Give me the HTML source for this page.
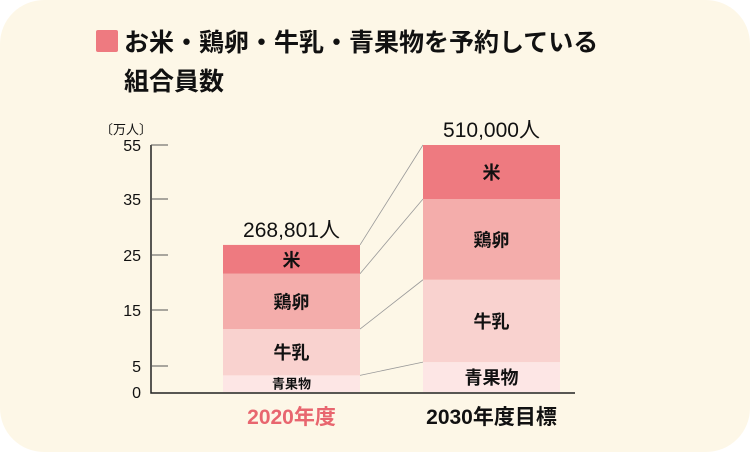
<!DOCTYPE html>
<html><head><meta charset="utf-8"><style>
html,body{margin:0;padding:0;background:#fff;}
body{width:750px;height:452px;overflow:hidden;font-family:"Liberation Sans","Noto Sans CJK JP",sans-serif;}
#card{position:absolute;left:0;top:0;width:750px;height:452px;background:#fdf7e7;border-radius:44px;}
</style></head><body>
<div id="card">
<svg id="chart" width="750" height="452" style="position:absolute;left:0;top:0">
<rect x="96" y="30" width="22" height="22" rx="2" fill="#ee7a80"/>
<text x="124" y="51" font-size="25" font-weight="bold" fill="#111">お米・鶏卵・牛乳・青果物を予約している</text>
<text x="124" y="90" font-size="25" font-weight="bold" fill="#111">組合員数</text>
<text x="100" y="134" font-size="13" fill="#111">〔万人〕</text>
<g id="axis"></g><g id="connectors"></g><g id="bars"></g><g id="labels"></g>
</svg>
</div>
<script>
const categories = ["2020年度","2030年度目標"];
const segmentNames = ["青果物","牛乳","鶏卵","米"];
const values2020 = [3.2, 8.4, 10.0, 5.2];
const values2030 = [5.7, 14.8, 14.5, 20.0];
const totalsLabels = ["268,801人","510,000人"];
const tickValues = [0,5,15,25,35,55];
const colors = ["#fde6e5","#f9d2cf","#f4adab","#ee7a80"];
const series = [values2020, values2030];
const tickPix = [392,366,310,255,199,145];
function y(v){
  for(let i=1;i<tickValues.length;i++){
    if(v<=tickValues[i]||i===tickValues.length-1){
      const a=tickValues[i-1],b=tickValues[i];
      return tickPix[i-1]+(v-a)/(b-a)*(tickPix[i]-tickPix[i-1]);
    }
  }
}
const NS="http://www.w3.org/2000/svg";
function mk(tag,attrs,parent){const e=document.createElementNS(NS,tag);for(const k in attrs)e.setAttribute(k,attrs[k]);parent.appendChild(e);return e;}
const axis=document.getElementById('axis');
let ax=mk('path',{d:`M151 ${y(tickValues[tickValues.length-1])} V393 H575`,stroke:'#222','stroke-width':1.5,fill:'none'},axis);


tickValues.forEach((t,i)=>{
  if(i>0){let l=mk('line',{x1:151,x2:168,y1:y(t),y2:y(t),stroke:'#555','stroke-width':1},axis);
  
  }
  let tx=mk('text',{x:141,y:(i===0?y(t)+6:y(t)+6),'font-size':16,'text-anchor':'end',fill:'#111'},axis);
  tx.textContent=t;
  
  
});
const barX=[223,423], barW=137;
const bars=document.getElementById('bars'), labels=document.getElementById('labels'), conn=document.getElementById('connectors');
const tops=[];
series.forEach((vals,bi)=>{
  let cum=0; tops.push([]);
  vals.forEach((v,si)=>{
    const y0=y(cum), y1=y(cum+v); cum+=v; tops[bi].push(y1);
    let r=mk('rect',{x:barX[bi],y:y1,width:barW,height:y0-y1,fill:colors[si]},bars);
    
    
    const small = (bi===0&&si===0);
    let t=mk('text',{x:barX[bi]+barW/2,y:(y0+y1)/2+(small?5:7),'font-size':small?13:18,'font-weight':'bold','text-anchor':'middle',fill:'#111'},labels);
    t.textContent=segmentNames[si];
    
    
  });
  let tt=mk('text',{x:barX[bi]+barW/2,y:y(cum)-8,'font-size':21,'text-anchor':'middle',fill:'#111'},labels);
  tt.textContent=totalsLabels[bi];
  
  
  let c=mk('text',{x:barX[bi]+barW/2,y:424,'font-size':21,'font-weight':'bold','text-anchor':'middle',fill:bi===0?'#e8666f':'#111'},labels);
  c.textContent=categories[bi];
  
  
});
tops[0].forEach((t,i)=>{
  let l=mk('line',{x1:barX[0]+barW,y1:t,x2:barX[1],y2:tops[1][i],stroke:'#999','stroke-width':0.8},conn);
  
  
});
</script>
</body></html>
